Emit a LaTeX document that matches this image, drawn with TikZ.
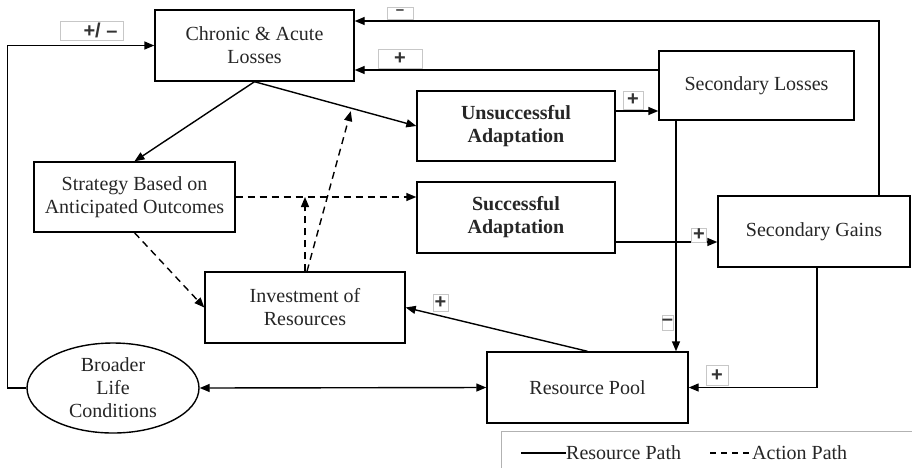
\documentclass[tikz,border=0pt]{standalone}
\usepackage{fontspec}
\setmainfont{Liberation Serif}
\newfontfamily\signfont{Liberation Sans}
\usetikzlibrary{arrows.meta,shapes.geometric,calc}

\tikzset{
  base/.style={font=\fontsize{20}{23}\selectfont, align=center, text=black!85},
  box/.style={base, draw, line width=1.4pt, rectangle, inner sep=2pt},
  oval/.style={base, draw, line width=1.4pt, ellipse, inner sep=0pt},
  conn/.style={line width=1.4pt, -{Triangle[length=10pt,width=8pt]}},
  dconn/.style={conn, dash pattern=on 7pt off 5pt},
  twoway/.style={line width=1.4pt, {Triangle[length=10pt,width=8pt]}-{Triangle[length=10pt,width=8pt]}},
  sign/.style={draw=black!22, line width=0.8pt, fill=white, inner sep=0pt,
    font=\signfont\bfseries\fontsize{20}{20}\selectfont, text=black!80},
  legendtext/.style={font=\fontsize{20}{23}\selectfont, text=black!85, inner sep=0pt}
}

\begin{document}
\begin{tikzpicture}[x=1pt,y=-1pt]
\path[clip] (0,0) rectangle (912,467);
\fill[white] (0,0) rectangle (912,467);

% boxes
\node[box, minimum width=199pt, minimum height=71pt] (chronic) at (254.5,45.5) {Chronic \& Acute\\Losses};
\node[box, minimum width=201pt, minimum height=70pt] (strategy) at (134.5,197) {Strategy Based on\\Anticipated Outcomes};
\node[box, minimum width=198pt, minimum height=70pt] (unsucc) at (516,126) {\bfseries Unsuccessful\\\bfseries Adaptation};
\node[box, minimum width=198pt, minimum height=71pt] (succ) at (516,217.5) {\bfseries Successful\\\bfseries Adaptation};
\node[box, minimum width=195pt, minimum height=69pt] (seclosses) at (756.5,85.5) {Secondary Losses};
\node[box, minimum width=192pt, minimum height=71pt] (secgains) at (814,231.5) {Secondary Gains};
\node[box, minimum width=200pt, minimum height=71pt] (invest) at (305,307.5) {Investment of\\Resources};
\node[box, minimum width=201pt, minimum height=71pt] (pool) at (587.5,387.5) {Resource Pool};
\node[oval, minimum width=172pt, minimum height=90pt] (broader) at (113,388) {Broader\\Life\\Conditions};

% resource paths
\draw[conn] (broader.west) -- ++(-19,0) |- (chronic.west);
\draw[conn] ([xshift=65pt]secgains.north) |- ([yshift=24.5pt]chronic.east);
\draw[conn] ([yshift=15.5pt]seclosses.west) -- ([yshift=15.5pt]seclosses.west -| chronic.east);
\draw[conn] (chronic.south) -- (strategy.north);
\draw[conn] (chronic.south) -- (unsucc.west);
\draw[conn] ([yshift=15pt]unsucc.east) -- ([yshift=15pt]unsucc.east -| seclosses.west);
\draw[conn] ([yshift=-24.5pt]succ.east) -- ([yshift=-24.5pt]succ.east -| secgains.west);
\draw[conn] ([xshift=-80.5pt]seclosses.south) -- ([xshift=-80.5pt]seclosses.south |- pool.north);
\draw[conn] ([xshift=3pt]secgains.south) |- (pool.east);
\draw[conn] (pool.north) -- (invest.east);
\draw[twoway] (broader.east) -- (pool.west);

% action paths
\coordinate (onloss) at ($(chronic.south)!0.6!(unsucc.west)$);
\draw[dconn] (strategy.east) -- (strategy.east -| succ.west);
\draw[dconn] (invest.north) -- (invest.north |- strategy.east);
\draw[dconn, shorten >=3pt] ([xshift=2pt]invest.north) -- (onloss);
\draw[dconn] (strategy.south) -- (invest.west);

% signs
\node[sign, minimum width=63pt, minimum height=19pt] (s1) at (91.5,30.5) {\hspace*{18pt}+/ –};
\node[sign, minimum width=26pt, minimum height=12pt, text height=3pt, text depth=0pt,
  font=\signfont\bfseries\fontsize{15}{15}\selectfont] (s2) at (400,13) {–};
\node[sign, minimum width=44pt, minimum height=19pt] (s3) at (400,58.5) {+};
\node[sign, minimum width=20pt, minimum height=18pt] (s4) at (633,100) {+};
\node[sign, minimum width=15pt, minimum height=14pt] (s5) at (699,235) {+};
\node[sign, minimum width=10pt, minimum height=15pt] (s6) at (667.5,322.5) {–};
\node[sign, minimum width=22pt, minimum height=20pt] (s7) at (717,375.5) {+};
\node[sign, minimum width=15pt, minimum height=17pt] (s8) at (440.5,302.5) {+};

% legend
\draw[black!30, line width=0.8pt] (501,470) -- (501,431) -- (915,431);
\coordinate (l1) at (521,453);
\coordinate (l2) at (566,453);
\draw[line width=1.4pt] (l1) -- (l2);
\node[legendtext, anchor=west] (lt1) at (l2) {Resource Path};
\coordinate (l3) at (710,453);
\coordinate (l4) at (752,453);
\draw[line width=1.4pt, dash pattern=on 6pt off 5pt] (l3) -- (l4);
\node[legendtext, anchor=west] (lt2) at (l4) {Action Path};
\end{tikzpicture}
\end{document}
